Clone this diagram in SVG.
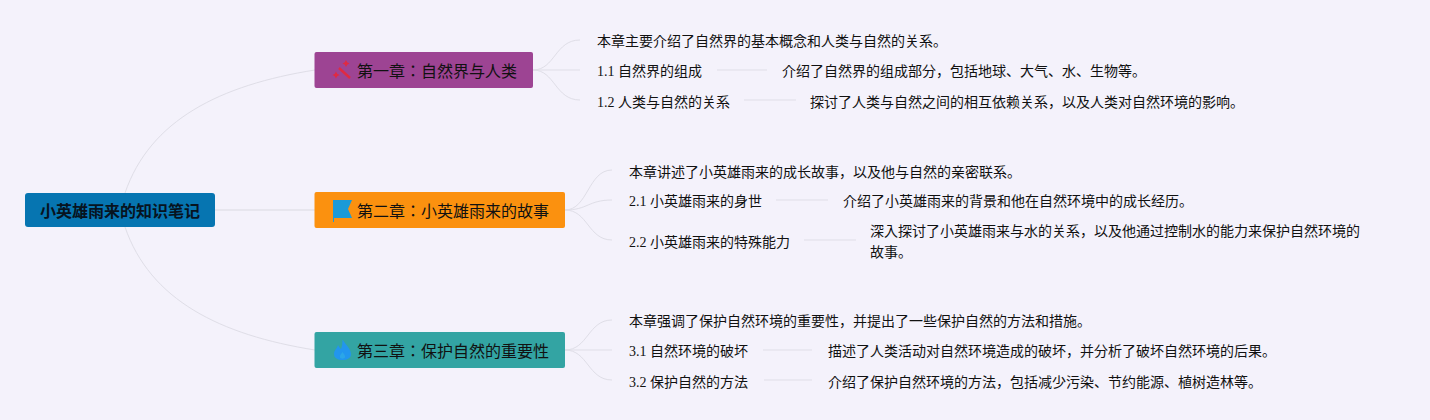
<svg xmlns="http://www.w3.org/2000/svg" width="1430" height="420" viewBox="0 0 1430 420">
<style>
text{font-family:"Liberation Serif","Noto Sans CJK JP",serif;fill:#111}
.t{font-size:14px}
.h{font-size:16px}
.r{font-size:16px;font-weight:700;font-family:"Liberation Sans","Noto Sans CJK JP",sans-serif;fill:#06131f}
.l{fill:none;stroke:#dfdee7;stroke-width:1}
.m{fill:none;stroke:#e3e2ea;stroke-width:1.5}
</style>
<rect width="1430" height="420" fill="#f4f2fb"/>
<g id="connectors">
<path class="l" d="M125 193C150 120 220 85 315 70"/>
<path class="m" d="M215 210H315"/>
<path class="l" d="M125 227C150 300 220 335 315 350"/>
<path class="l" d="M533 70C555 70 555 40 580 40"/>
<path class="l" d="M533 70H580"/>
<path class="l" d="M533 70C555 70 555 100 580 100"/>
<path class="l" d="M717 70H767"/>
<path class="l" d="M744 100H796"/>
<path class="l" d="M565 210C588 210 588 170 612 170"/>
<path class="l" d="M565 210C588 210 588 200 612 200"/>
<path class="l" d="M565 210C588 210 588 240 612 240"/>
<path class="l" d="M776 200H828"/>
<path class="l" d="M804 240H856"/>
<path class="l" d="M565 350C588 350 588 320 612 320"/>
<path class="l" d="M565 350H612"/>
<path class="l" d="M565 350C588 350 588 380 612 380"/>
<path class="l" d="M763 350H812"/>
<path class="l" d="M764 380H812"/>
</g>
<g id="root"><rect x="25" y="193" width="190" height="34" rx="3" fill="#0675b1"/><text class="r" x="40" y="217">小英雄雨来的知识笔记</text></g>
<g id="ch1"><rect x="314.5" y="52" width="218.500" height="36" rx="2" fill="#9d4493"/>
<path d="M339 68L350 78" stroke="#e02a42" stroke-width="2.400" fill="none"/><path d="M346 60l1.200 2.300 2.300 1.200-2.300 1.200-1.200 2.300-1.200-2.300-2.300-1.200 2.300-1.200zM336 71.500l1.200 2.300 2.300 1.200-2.300 1.200-1.200 2.300-1.200-2.300-2.300-1.200 2.300-1.200z" fill="#e02a42"/>
<text class="h" x="357" y="77">第一章：自然界与人类</text></g>
<g id="ch2"><rect x="314.5" y="192" width="250.500" height="36" rx="2" fill="#fb910f"/>
<path d="M333 200H352L348 209L352 218H334V222H333Z" fill="#1a9ad8"/>
<text class="h" x="357" y="217">第二章：小英雄雨来的故事</text></g>
<g id="ch3"><rect x="314.5" y="332" width="250.500" height="36" rx="2" fill="#33a4a3"/>
<path d="M342.500 339.500C346 345 351 349 351 354.500C351 358 347 360 342.500 360C338 360 334 358 334 354C334 350.500 337 348.500 338 345C339 347 340 348 341 349C342 346.500 342.500 343 342.500 339.500Z" fill="#2296ee"/>
<path d="M342.500 352C344 354 345.500 355.500 345 357.500C344.500 359 340.500 359 340 357.500C339.500 355.500 341 354 342.500 352Z" fill="#2ba6e8"/>
<text class="h" x="357" y="357">第三章：保护自然的重要性</text></g>
<g id="c1"><text class="t" x="597" y="46">本章主要介绍了自然界的基本概念和人类与自然的关系。</text></g>
<g id="c11"><text class="t" x="597" y="76">1.1 自然界的组成</text></g>
<g id="c11d"><text class="t" x="782" y="76">介绍了自然界的组成部分，包括地球、大气、水、生物等。</text></g>
<g id="c12"><text class="t" x="597" y="107">1.2 人类与自然的关系</text></g>
<g id="c12d"><text class="t" x="810" y="107">探讨了人类与自然之间的相互依赖关系，以及人类对自然环境的影响。</text></g>
<g id="c2"><text class="t" x="629" y="176.500">本章讲述了小英雄雨来的成长故事，以及他与自然的亲密联系。</text></g>
<g id="c21"><text class="t" x="629" y="206">2.1 小英雄雨来的身世</text></g>
<g id="c21d"><text class="t" x="843" y="206">介绍了小英雄雨来的背景和他在自然环境中的成长经历。</text></g>
<g id="c22"><text class="t" x="629" y="246.500">2.2 小英雄雨来的特殊能力</text></g>
<g id="c22d"><text class="t" x="870" y="236">深入探讨了小英雄雨来与水的关系，以及他通过控制水的能力来保护自然环境的</text><text class="t" x="870" y="257">故事。</text></g>
<g id="c3"><text class="t" x="629" y="326">本章强调了保护自然环境的重要性，并提出了一些保护自然的方法和措施。</text></g>
<g id="c31"><text class="t" x="629" y="356">3.1 自然环境的破坏</text></g>
<g id="c31d"><text class="t" x="828" y="356">描述了人类活动对自然环境造成的破坏，并分析了破坏自然环境的后果。</text></g>
<g id="c32"><text class="t" x="629" y="386.500">3.2 保护自然的方法</text></g>
<g id="c32d"><text class="t" x="828" y="386.500">介绍了保护自然环境的方法，包括减少污染、节约能源、植树造林等。</text></g>
</svg>
